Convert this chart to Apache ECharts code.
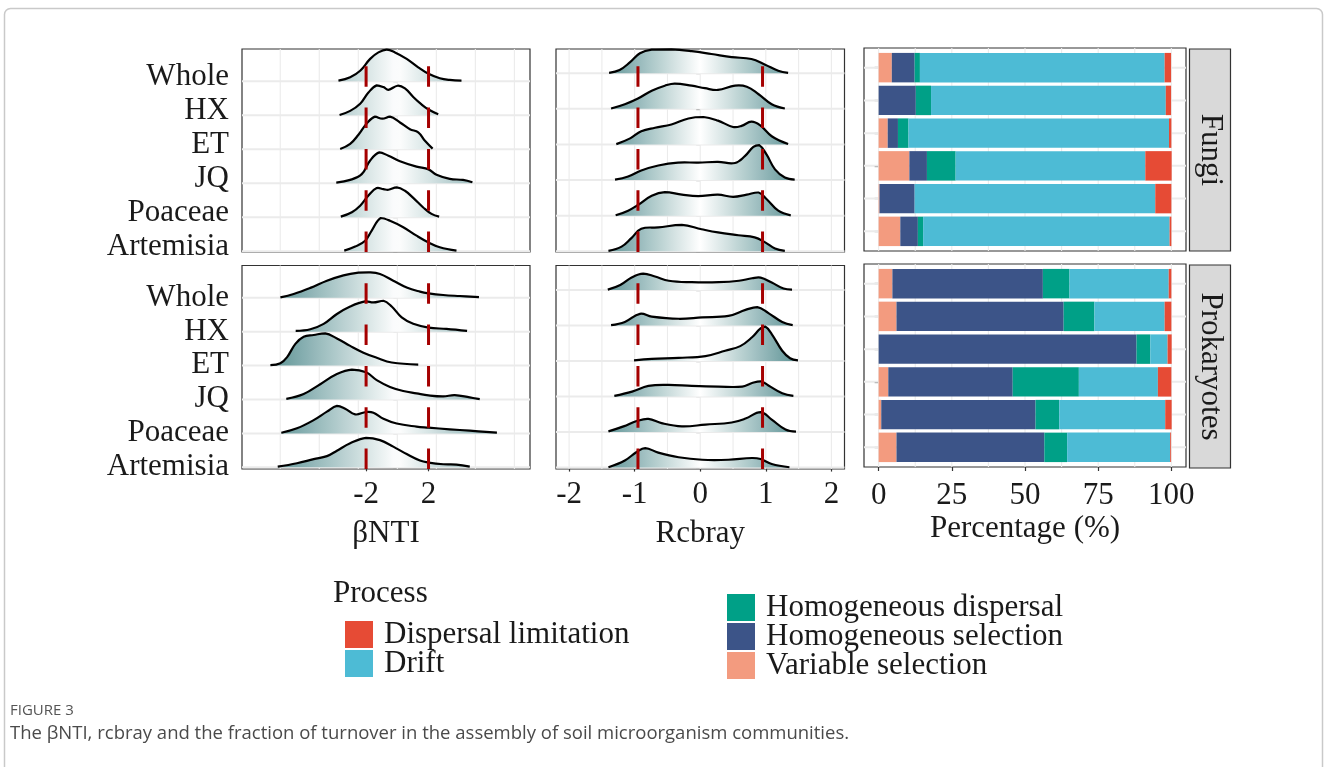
<!DOCTYPE html>
<html>
<head>
<meta charset="utf-8">
<script src="https://cdn.jsdelivr.net/npm/echarts@6/dist/echarts.min.js"></script>
<style>
html, body { margin: 0; padding: 0; background: #fff; }
#chart { width: 1328px; height: 767px; }
</style>
</head>
<body>
<div id="chart"></div>
<script>
// groups, top to bottom
var groups = ['Whole', 'HX', 'ET', 'JQ', 'Poaceae', 'Artemisia'];
var processes = ['Variable selection', 'Homogeneous selection', 'Homogeneous dispersal', 'Drift', 'Dispersal limitation'];
var processColors = ['#F39B7F', '#3C5488', '#00A087', '#4DBBD5', '#E64B35'];

// axis ticks / grid lines / thresholds
var bntiTicks = [-2, 2];
var rcbrayTicks = [-2, -1, 0, 1, 2];
var pctTicks = [0, 25, 50, 75, 100];
var bntiGrid = [-7.5, -5, -2.5, 0, 2.5, 5, 7.5];
var rcbrayGrid = [-2, -1.5, -1, -0.5, 0, 0.5, 1, 1.5, 2];
var pctGrid = [0, 12.5, 25, 37.5, 50, 62.5, 75, 87.5, 100];
var bntiCut = [-2, 2];
var rcbrayCut = [-0.95, 0.95];
var rowIdx = [0, 1, 2, 3, 4, 5];

// density ridges: [x, height in row units], one list per group (Whole .. Artemisia)
var fungiBnti = [
  [[-3.77,0.02],[-3.02,0.12],[-2.38,0.31],[-1.74,0.66],[-1.21,0.85],[-0.68,0.93],[-0.15,0.85],[0.6,0.66],[1.34,0.41],[2.0,0.22],[2.72,0.09],[3.36,0.04],[4.11,0.02]],
  [[-3.70,0.01],[-3.02,0.13],[-2.38,0.34],[-1.85,0.67],[-1.32,0.88],[-0.89,0.83],[-0.57,0.75],[0.02,0.87],[0.49,0.79],[1.02,0.54],[1.55,0.32],[2.0,0.17],[2.62,0.03]],
  [[-3.66,0.01],[-3.02,0.16],[-2.49,0.43],[-1.96,0.76],[-1.43,0.96],[-0.96,0.90],[-0.47,0.96],[0.17,0.79],[0.81,0.59],[1.34,0.50],[1.77,0.25],[2.26,0.02]],
  [[-3.91,0.02],[-3.02,0.10],[-2.28,0.27],[-1.74,0.67],[-1.15,0.91],[-0.57,0.81],[0.17,0.65],[1.23,0.49],[2.0,0.41],[2.51,0.25],[3.36,0.13],[4.21,0.10],[4.81,0.03]],
  [[-3.62,0.02],[-2.91,0.15],[-2.38,0.34],[-1.85,0.64],[-1.32,0.86],[-0.89,0.83],[-0.57,0.81],[-0.04,0.88],[0.49,0.78],[1.02,0.57],[1.66,0.29],[2.19,0.10],[2.68,0.02]],
  [[-3.40,0.02],[-2.70,0.14],[-2.06,0.31],[-1.64,0.61],[-1.06,0.98],[-0.47,0.90],[0.38,0.71],[1.23,0.46],[2.0,0.26],[2.72,0.12],[3.79,0.02]]
];
var prokBnti = [
  [[-7.49,0.01],[-6.64,0.11],[-5.57,0.29],[-4.51,0.50],[-3.45,0.66],[-2.49,0.74],[-1.85,0.75],[-1.11,0.70],[-0.26,0.50],[0.6,0.30],[1.45,0.18],[2.0,0.13],[2.94,0.08],[4.0,0.05],[5.23,0.02]],
  [[-6.51,0.02],[-5.57,0.07],[-4.72,0.23],[-3.87,0.52],[-3.02,0.74],[-2.06,0.89],[-1.53,0.86],[-0.89,0.91],[-0.36,0.74],[0.28,0.42],[1.02,0.23],[2.0,0.12],[3.15,0.08],[4.47,0.02]],
  [[-8.13,0.01],[-7.49,0.07],[-7.06,0.25],[-6.53,0.64],[-6.0,0.85],[-5.36,0.90],[-4.62,0.95],[-3.87,0.80],[-3.02,0.58],[-2.17,0.38],[-1.32,0.23],[-0.36,0.09],[1.34,0.03]],
  [[-7.11,0.02],[-6.0,0.16],[-4.94,0.45],[-3.87,0.75],[-2.91,0.88],[-2.0,0.80],[-1.32,0.57],[-0.47,0.37],[0.38,0.25],[1.23,0.18],[2.0,0.12],[2.94,0.09],[3.68,0.13],[4.64,0.06],[5.28,0.01]],
  [[-7.43,0.02],[-6.43,0.15],[-5.36,0.39],[-4.51,0.64],[-3.87,0.81],[-3.34,0.73],[-2.70,0.56],[-2.0,0.63],[-1.53,0.61],[-0.89,0.43],[-0.04,0.29],[1.23,0.20],[2.0,0.17],[3.36,0.12],[4.64,0.08],[6.38,0.02]],
  [[-7.66,0.02],[-6.43,0.12],[-5.36,0.24],[-4.51,0.33],[-3.87,0.49],[-3.02,0.71],[-2.0,0.87],[-1.11,0.80],[-0.26,0.61],[0.6,0.39],[1.45,0.20],[2.0,0.14],[2.94,0.09],[3.79,0.08],[4.64,0.02]]
];
var fungiRcbray = [
  [[-1.39,0.01],[-1.23,0.09],[-1.07,0.31],[-0.92,0.56],[-0.74,0.66],[-0.44,0.67],[-0.13,0.62],[0.17,0.54],[0.48,0.45],[0.78,0.40],[0.99,0.24],[1.19,0.07],[1.34,0.01]],
  [[-1.36,0.01],[-1.15,0.13],[-0.95,0.29],[-0.74,0.51],[-0.54,0.65],[-0.39,0.71],[-0.13,0.65],[0.07,0.58],[0.27,0.53],[0.53,0.65],[0.71,0.62],[0.89,0.41],[1.09,0.13],[1.29,0.01]],
  [[-1.28,0.01],[-1.07,0.17],[-0.90,0.37],[-0.69,0.47],[-0.44,0.56],[-0.18,0.73],[0.05,0.77],[0.27,0.67],[0.50,0.49],[0.63,0.52],[0.78,0.64],[0.91,0.54],[1.09,0.23],[1.34,0.01]],
  [[-1.30,0.01],[-1.10,0.10],[-0.90,0.27],[-0.64,0.41],[-0.34,0.49],[-0.03,0.49],[0.27,0.51],[0.53,0.48],[0.68,0.67],[0.81,0.93],[0.90,0.98],[1.01,0.72],[1.14,0.30],[1.29,0.07],[1.44,0.01]],
  [[-1.29,0.01],[-1.10,0.14],[-0.95,0.30],[-0.74,0.56],[-0.54,0.66],[-0.28,0.59],[-0.03,0.55],[0.27,0.59],[0.50,0.53],[0.71,0.59],[0.89,0.65],[1.01,0.47],[1.19,0.14],[1.38,0.01]],
  [[-1.40,0.01],[-1.20,0.13],[-1.05,0.37],[-0.90,0.63],[-0.64,0.67],[-0.28,0.74],[0.02,0.62],[0.27,0.53],[0.58,0.45],[0.83,0.39],[0.99,0.25],[1.14,0.08],[1.29,0.01]]
];
var prokRcbray = [
  [[-1.41,0.01],[-1.22,0.14],[-1.04,0.36],[-0.87,0.46],[-0.69,0.38],[-0.48,0.26],[-0.13,0.22],[0.28,0.22],[0.59,0.26],[0.79,0.33],[0.92,0.35],[1.09,0.21],[1.27,0.04],[1.40,0.01]],
  [[-1.36,0.01],[-1.15,0.10],[-0.92,0.33],[-0.74,0.25],[-0.33,0.19],[0.03,0.23],[0.43,0.27],[0.69,0.44],[0.87,0.52],[1.04,0.35],[1.25,0.10],[1.41,0.01]],
  [[-1.01,0.02],[-0.74,0.06],[-0.33,0.09],[0.08,0.14],[0.38,0.29],[0.61,0.42],[0.79,0.67],[0.92,0.92],[0.99,0.97],[1.09,0.76],[1.25,0.29],[1.37,0.08],[1.49,0.02]],
  [[-1.31,0.02],[-1.04,0.14],[-0.79,0.30],[-0.48,0.33],[-0.13,0.30],[0.28,0.28],[0.64,0.28],[0.79,0.38],[0.92,0.43],[1.04,0.31],[1.25,0.09],[1.42,0.02]],
  [[-1.40,0.02],[-1.17,0.16],[-0.97,0.31],[-0.79,0.37],[-0.59,0.25],[-0.28,0.16],[0.08,0.21],[0.48,0.27],[0.69,0.38],[0.92,0.56],[1.09,0.35],[1.30,0.07],[1.46,0.01]],
  [[-1.40,0.01],[-1.15,0.20],[-0.97,0.44],[-0.84,0.55],[-0.64,0.42],[-0.33,0.29],[0.03,0.22],[0.43,0.22],[0.79,0.27],[0.92,0.24],[1.09,0.10],[1.36,0.01]]
];

// turnover fractions (%), order = groups
var fungiVariable = [4.5, 0, 3.1, 10.5, 0.3, 7.4];
var fungiHomSel   = [7.8, 12.7, 3.5, 6.0, 12.0, 6.0];
var fungiHomDisp  = [1.8, 5.2, 3.6, 9.8, 0, 1.8];
var fungiDrift    = [83.6, 80.2, 89.0, 64.8, 82.2, 84.2];
var fungiDispLim  = [2.2, 1.8, 0.8, 9.0, 5.5, 0.6];
var prokVariable  = [4.7, 6.1, 0, 3.3, 0.9, 6.1];
var prokHomSel    = [51.4, 57.1, 88.1, 42.5, 52.7, 50.5];
var prokHomDisp   = [9.1, 10.5, 4.7, 22.6, 8.1, 7.8];
var prokDrift     = [33.9, 24.0, 5.9, 27.0, 36.2, 35.2];
var prokDispLim   = [0.9, 2.3, 1.4, 4.6, 2.2, 0.3];

var serif = "'Liberation Serif', 'Times New Roman', serif";
var txt = { fontFamily: serif, fontSize: 31, color: '#1a1a1a' };
var gridLine = '#ebebeb';
var teal = [90, 145, 147];

function tint(t) {
  t = Math.min(1, Math.abs(t));
  return 'rgb(' + teal.map(function (c) { return Math.round(255 + (c - 255) * t); }).join(',') + ')';
}

function seg(api, a, b, style) {
  var p = api.coord(a), q = api.coord(b);
  return { type: 'line', shape: { x1: p[0], y1: p[1], x2: q[0], y2: q[1] }, style: style };
}

// ridge panels
var ridgePanels = [
  { grid: { left: 242, top: 49, width: 288, height: 203 }, x: [-9.95, 8.5], y: [-0.02, 5.95], ridges: fungiBnti, vgrid: bntiGrid, cut: bntiCut, lim: 8.2, ylab: true, lh: 8, ticks: bntiTicks, xlab: false },
  { grid: { left: 242, top: 265.5, width: 288, height: 203.5 }, x: [-9.95, 8.5], y: [-0.05, 5.95], ridges: prokBnti, vgrid: bntiGrid, cut: bntiCut, lim: 8.2, ylab: true, lh: 0.5, ticks: bntiTicks, xlab: true, name: 'βNTI' },
  { grid: { left: 556, top: 49, width: 288.5, height: 203 }, x: [-2.2, 2.2], y: [-0.02, 5.68], ridges: fungiRcbray, vgrid: rcbrayGrid, cut: rcbrayCut, lim: 1.5, ylab: false, ticks: rcbrayTicks, xlab: false },
  { grid: { left: 556, top: 265.5, width: 288.5, height: 203.5 }, x: [-2.2, 2.2], y: [-0.04, 5.69], ridges: prokRcbray, vgrid: rcbrayGrid, cut: rcbrayCut, lim: 1.5, ylab: false, ticks: rcbrayTicks, xlab: true, name: 'Rcbray' }
];

var grids = [], xAxes = [], yAxes = [], series = [];
var tickStyle = { show: true, length: 4, lineStyle: { color: '#333', width: 1.2 } };

ridgePanels.forEach(function (p, i) {
  grids.push(Object.assign({ show: true, borderColor: '#333', borderWidth: 1.2, backgroundColor: '#fff' }, p.grid));
  xAxes.push({
    type: 'value', gridIndex: i, min: p.x[0], max: p.x[1],
    axisLine: { show: false }, splitLine: { show: false },
    axisTick: p.xlab ? Object.assign({ customValues: p.ticks }, tickStyle) : { show: false },
    axisLabel: p.xlab ? Object.assign({ customValues: p.ticks, margin: 10 }, txt) : { show: false },
    name: p.name || '', nameLocation: 'middle', nameGap: 49, nameTextStyle: txt
  });
  yAxes.push({
    type: 'value', gridIndex: i, min: p.y[0], max: p.y[1],
    axisLine: { show: false }, splitLine: { show: false },
    axisTick: Object.assign({ customValues: rowIdx }, tickStyle),
    axisLabel: p.ylab ? Object.assign({
      customValues: rowIdx, margin: 13, verticalAlign: 'bottom', lineHeight: p.lh,
      formatter: function (v) { return groups[5 - Math.round(v)]; }
    }, txt) : { show: false }
  });
  series.push({
    type: 'custom', xAxisIndex: i, yAxisIndex: i, z: 1, silent: true, data: [[0, 0]],
    renderItem: function (params, api) {
      var ch = [];
      p.vgrid.forEach(function (v) { ch.push(seg(api, [v, p.y[0]], [v, p.y[1]], { stroke: gridLine, lineWidth: 1.1 })); });
      rowIdx.forEach(function (r) { ch.push(seg(api, [p.x[0], r], [p.x[1], r], { stroke: gridLine, lineWidth: 2 })); });
      return { type: 'group', children: ch };
    }
  });
  series.push({
    type: 'custom', xAxisIndex: i, yAxisIndex: i, z: 2, silent: true,
    data: p.ridges.map(function (r, k) { return [r[0][0], 5 - k]; }),
    renderItem: function (params, api) {
      var k = params.dataIndex, base = 5 - k, pts = p.ridges[k];
      var top = pts.map(function (d) { return api.coord([d[0], base + d[1]]); });
      var b0 = api.coord([pts[0][0], base]), b1 = api.coord([pts[pts.length - 1][0], base]);
      var xs = top.map(function (q) { return q[0]; });
      var ys = top.map(function (q) { return q[1]; }).concat([b0[1]]);
      var box = [[Math.min.apply(null, xs), Math.min.apply(null, ys)], [Math.max.apply(null, xs), Math.max.apply(null, ys)]];
      var g0 = api.coord([p.x[0], base]), g1 = api.coord([p.x[1], base]);
      var stops = [];
      for (var s = 0; s <= 40; s++) {
        var v = p.x[0] + (p.x[1] - p.x[0]) * s / 40;
        stops.push({ offset: s / 40, color: tint(v / p.lim) });
      }
      return {
        type: 'group', children: [
          { type: 'polygon', shape: { points: top.concat([b1, b0]), smooth: 0.4, smoothConstraint: box },
            style: { fill: { type: 'linear', x: g0[0], y: 0, x2: g1[0], y2: 0, global: true, colorStops: stops }, stroke: null } },
          { type: 'polyline', shape: { points: top, smooth: 0.4, smoothConstraint: box },
            style: { fill: 'none', stroke: '#000', lineWidth: 2.2 } }
        ]
      };
    }
  });
  series.push({
    type: 'custom', xAxisIndex: i, yAxisIndex: i, z: 3, silent: true,
    data: p.cut.map(function (v) { return [v, 0]; }),
    renderItem: function (params, api) {
      var v = api.value(0);
      return seg(api, [v, p.y[0]], [v, p.y[1]], { stroke: '#a50000', lineWidth: 3, lineDash: [20.5, 20.8], lineCap: 'butt' });
    }
  });
});

// bar panels: frame grid (4, 5) + bar grid (6, 7)
var barPanels = [
  { top: 48, xlab: false, values: [fungiVariable, fungiHomSel, fungiHomDisp, fungiDrift, fungiDispLim], stack: 'fungi' },
  { top: 264, xlab: true, values: [prokVariable, prokHomSel, prokHomDisp, prokDrift, prokDispLim], stack: 'prok', name: 'Percentage (%)' }
];
var barLeft = 864, barWidthPx = 322, barHeight = 203, yPad = barHeight * 0.1 / 6.2;

barPanels.forEach(function (b, j) {
  var fi = 4 + j;
  grids.push({ show: true, borderColor: '#333', borderWidth: 1.2, backgroundColor: '#fff', left: barLeft, top: b.top, width: barWidthPx, height: barHeight });
  xAxes.push({
    type: 'value', gridIndex: fi, min: -5, max: 105,
    axisLine: { show: false }, splitLine: { show: false },
    axisTick: b.xlab ? Object.assign({ customValues: pctTicks }, tickStyle) : { show: false },
    axisLabel: b.xlab ? Object.assign({ customValues: pctTicks, margin: 13 }, txt) : { show: false },
    name: b.name || '', nameLocation: 'middle', nameGap: 46, nameTextStyle: txt
  });
  yAxes.push({
    type: 'value', gridIndex: fi, min: 0.4, max: 6.6, inverse: true,
    axisLine: { show: false }, splitLine: { show: false },
    axisTick: Object.assign({ customValues: [1, 2, 3, 4, 5, 6] }, tickStyle),
    axisLabel: { show: false }
  });
  series.push({
    type: 'custom', xAxisIndex: fi, yAxisIndex: fi, z: 1, silent: true, data: [[0, 1]],
    renderItem: function (params, api) {
      var ch = [];
      pctGrid.forEach(function (v) { ch.push(seg(api, [v, 0.4], [v, 6.6], { stroke: gridLine, lineWidth: 1.1 })); });
      [1, 2, 3, 4, 5, 6].forEach(function (r) { ch.push(seg(api, [-5, r], [105, r], { stroke: gridLine, lineWidth: 2 })); });
      return { type: 'group', children: ch };
    }
  });
});

barPanels.forEach(function (b, j) {
  var bi = 6 + j;
  grids.push({ show: false, left: barLeft, top: b.top + yPad, width: barWidthPx, height: barHeight - 2 * yPad });
  xAxes.push({ type: 'value', gridIndex: bi, min: -5, max: 105, show: false });
  yAxes.push({ type: 'category', gridIndex: bi, data: groups, inverse: true, show: false });
  processes.forEach(function (name, k) {
    series.push({
      type: 'bar', name: name, stack: b.stack, xAxisIndex: bi, yAxisIndex: bi, z: 2, silent: true,
      barWidth: '90%', itemStyle: { color: processColors[k] }, data: b.values[k]
    });
  });
});

var strips = [
  { y: 49, h: 202, label: 'Fungi' },
  { y: 265, h: 203, label: 'Prokaryotes' }
];
var graphics = [
  { type: 'rect', shape: { x: 4.5, y: 8.5, width: 1318, height: 820, r: 6 }, style: { fill: 'none', stroke: '#c9c9c9', lineWidth: 1.5 }, silent: true, z: -10 },
  { type: 'text', x: 10, y: 703, style: { text: 'FIGURE 3', font: '15px "Open Sans"', fill: '#555', textVerticalAlign: 'top' } },
  { type: 'text', x: 10, y: 724, style: { text: 'The βNTI, rcbray and the fraction of turnover in the assembly of soil microorganism communities.', font: '18.5px "Open Sans"', fill: '#4a4a4a', textVerticalAlign: 'top' } }
];
strips.forEach(function (s) {
  graphics.push({ type: 'rect', shape: { x: 1189.5, y: s.y, width: 41, height: s.h }, style: { fill: '#d9d9d9', stroke: '#333', lineWidth: 1.2 } });
  graphics.push({ type: 'text', x: 1210, y: s.y + s.h / 2, rotation: -Math.PI / 2,
    style: { text: s.label, font: '31px ' + serif, fill: '#1a1a1a', textAlign: 'center', textVerticalAlign: 'middle' } });
});

var legendText = { fontFamily: serif, fontSize: 31, color: '#1a1a1a', padding: [0, 0, 0, 6] };

var chart = echarts.init(document.getElementById('chart'), null, { renderer: 'canvas' });
chart.setOption({
  animation: false,
  backgroundColor: '#fff',
  title: { text: 'Process', left: 328, top: 573, textStyle: { fontFamily: serif, fontSize: 31, fontWeight: 'normal', color: '#1a1a1a' } },
  legend: [
    { data: ['Dispersal limitation', 'Drift'], orient: 'vertical', left: 340, top: 614, itemWidth: 28, itemHeight: 27, itemGap: -2, icon: 'rect', selectedMode: false, textStyle: legendText },
    { data: ['Homogeneous dispersal', 'Homogeneous selection', 'Variable selection'], orient: 'vertical', left: 722, top: 587, itemWidth: 28, itemHeight: 27, itemGap: -2, icon: 'rect', selectedMode: false, textStyle: legendText }
  ],
  grid: grids,
  xAxis: xAxes,
  yAxis: yAxes,
  series: series,
  graphic: graphics
});
</script>
</body>
</html>
